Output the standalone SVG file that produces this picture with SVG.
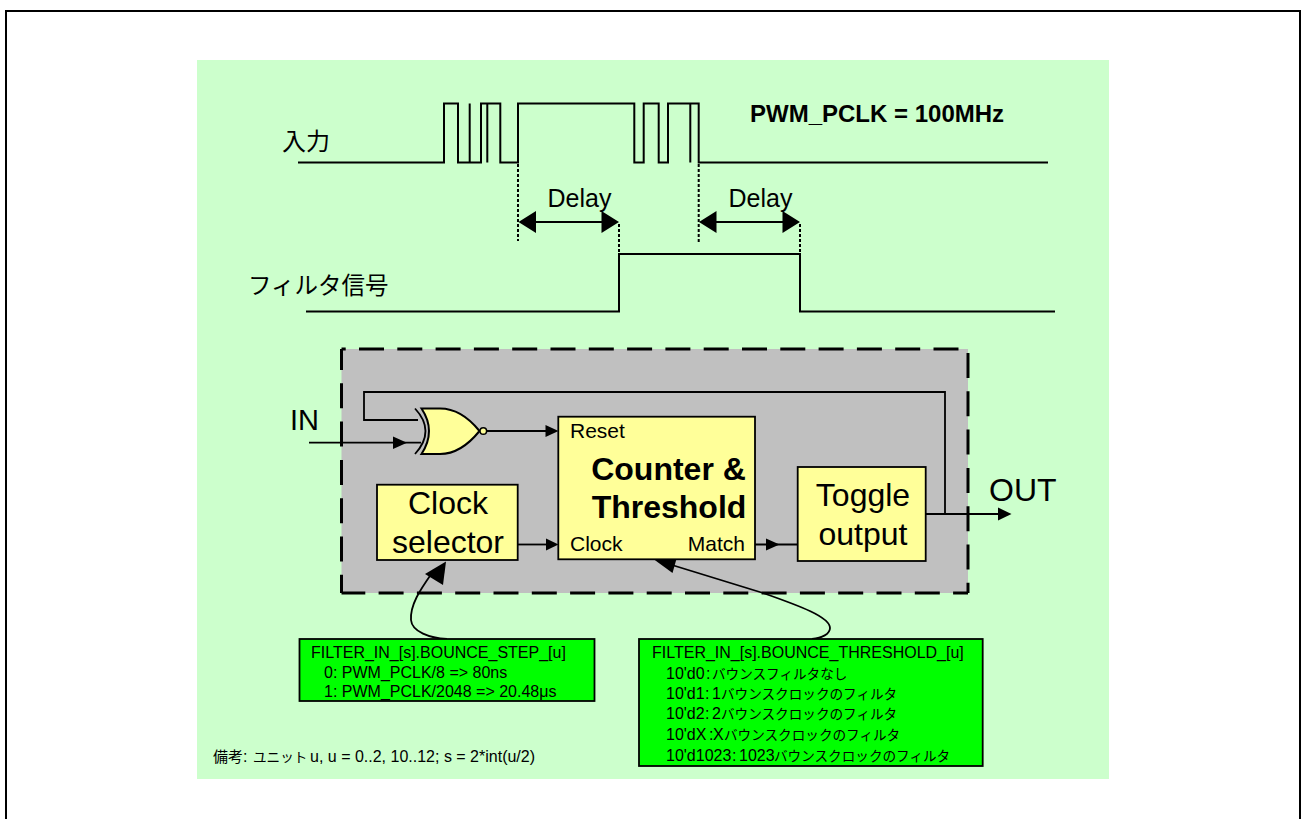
<svg xmlns="http://www.w3.org/2000/svg" width="1301" height="819" viewBox="0 0 1301 819">
<style>
text{font-family:"Liberation Sans","Noto Sans CJK JP",sans-serif;fill:#000}
.w{fill:none;stroke:#000;stroke-width:2}
.t{fill:none;stroke:#000;stroke-width:1.8}
.d{fill:none;stroke:#000;stroke-width:2;stroke-dasharray:3 2}
.box{fill:#FFFF99;stroke:#000;stroke-width:1.8}
.g{fill:#00FF00;stroke:#000;stroke-width:1.8}
.ah{fill:#000;stroke:none}
.big{font-size:32px;text-anchor:middle}
.b{font-weight:bold}
.s{font-size:16px}
.j{font-size:13.600px}
.fr{fill:none;stroke:#000;stroke-width:3;stroke-dasharray:25 13.300}
</style>
<rect x="0" y="0" width="1301" height="819" fill="#fff"/>
<path d="M6 819V11H1300V819" fill="none" stroke="#000" stroke-width="2"/>
<rect x="197" y="60" width="912" height="719" fill="#CCFFCC"/>

<g id="waveforms">
<path class="w" d="M298 162.500H444V103.500H458V162.500H469.700V103.500V162.500H481V103.500H487.300V162.500V103.500H500.300V162.500H518V103.500H634.300V162.500H643.700V103.500H658.700V162.500H668V103.500H690.300V162.500V103.500H698.700V162.500H1048"/>
<path class="w" d="M306 311.500H619V254H800V311.500H1055"/>
<path class="d" d="M518 164V241M698.700 164V243M619 224V253M800 224V253"/>
</g>
<text id="label-in" x="282" y="150" font-size="24">入力</text>
<text id="label-filter" x="248" y="294" font-size="23.500">フィルタ信号</text>
<text id="label-pwm" x="750" y="122" font-size="24" class="b">PWM_PCLK = 100MHz</text>

<g id="delay1">
<text x="579.500" y="207" font-size="25" text-anchor="middle">Delay</text>
<path class="ah" d="M518.500 222L536 211V233Z M619 222L601.500 211V233Z"/>
<path class="w" d="M530 222H608"/>
</g>
<g id="delay2">
<text x="760.500" y="207" font-size="25" text-anchor="middle">Delay</text>
<path class="ah" d="M699 222L716.500 211V233Z M800 222L782.500 211V233Z"/>
<path class="w" d="M711 222H789"/>
</g>

<g id="frame">
<rect x="341.500" y="349" width="626.500" height="244" fill="#C0C0C0"/>
<path class="fr" d="M341.500 349H968" stroke-dashoffset="20.800"/>
<path class="fr" d="M341.500 349V593" stroke-dashoffset="4"/>
<path class="fr" d="M341.500 593H968" stroke-dashoffset="1.200"/>
<path class="fr" d="M968 349V593" stroke-dashoffset="34.300"/>
</g>

<g id="connectors">
<path class="t" d="M418 420H364V392H945V514"/>
<path class="t" d="M309 442.700H421"/>
<path class="ah" d="M407 442.700L393 436.500V449Z"/>
<path class="t" d="M487 431H550"/>
<path class="ah" d="M558.500 431L545.500 425V437Z"/>
<path class="t" d="M518 544.500H550"/>
<path class="ah" d="M558.500 544.500L546 538.500V550.500Z"/>
<path class="t" d="M755 544.500H798"/>
<path class="ah" d="M779.500 544.500L766 538.500V550.500Z"/>
<path class="t" d="M926 514H1000"/>
<path class="ah" d="M1011.500 514L998 507.500V520.500Z"/>
<path class="t" d="M432 573C420 590 410 605 411 620C412 632 430 638 447 639"/>
<path class="ah" d="M446 561.500L425 574L443 585Z"/>
<path class="t" d="M672 565L763 593C800 606 830 617 830 628C830 634 822 638 812 639"/>
<path class="ah" d="M652 558L677 557L672.500 573Z"/>
</g>

<g id="xnor">
<path class="t" d="M415 408.500Q436 431 415 454"/>
<path d="M421.500 408.500H440C456 408.500 469 418 479.500 431C469 444 456 454 440 454H421.500Q436.500 431 421.500 408.500Z" fill="#FFFF99" stroke="#000" stroke-width="2"/>
<circle cx="483.300" cy="431" r="3.300" fill="#FFFF99" stroke="#000" stroke-width="1.500"/>
</g>

<g id="counter">
<rect class="box" x="558.300" y="416.700" width="196.700" height="142.600"/>
<text x="570" y="438" font-size="21">Reset</text>
<text x="668.500" y="480" font-size="32" class="b" text-anchor="middle">Counter &amp;</text>
<text x="669" y="518" font-size="32" class="b" text-anchor="middle">Threshold</text>
<text x="570" y="551" font-size="21">Clock</text>
<text x="745" y="551" font-size="21" text-anchor="end">Match</text>
</g>
<g id="clock-selector">
<rect class="box" x="377" y="484.700" width="140.700" height="75.300"/>
<text class="big" x="448" y="514">Clock</text>
<text class="big" x="448" y="553">selector</text>
</g>
<g id="toggle">
<rect class="box" x="797.700" y="467" width="128" height="94"/>
<text class="big" x="863" y="506">Toggle</text>
<text class="big" x="863" y="545">output</text>
</g>
<text id="in" x="290" y="430" font-size="29">IN</text>
<text id="out" x="989" y="501" font-size="32">OUT</text>

<g id="step-box">
<rect class="g" x="299.500" y="639" width="295" height="62"/>
<text class="s" x="311" y="658">FILTER_IN_[s].BOUNCE_STEP_[u]</text>
<text class="s" x="324" y="677.500">0: PWM_PCLK/8 =&gt; 80ns</text>
<text class="s" x="324" y="696.500">1: PWM_PCLK/2048 =&gt; 20.48μs</text>
</g>
<g id="threshold-box">
<rect class="g" x="639" y="639" width="343.700" height="127"/>
<text class="s" x="652" y="658">FILTER_IN_[s].BOUNCE_THRESHOLD_[u]</text>
<text class="s" x="666" y="679">10'd0<tspan x="706">:</tspan><tspan class="j" x="712">バウンスフィルタなし</tspan></text>
<text class="s" x="666" y="699">10'd1<tspan x="705">:</tspan><tspan x="712">1</tspan><tspan class="j" x="721">バウンスクロックのフィルタ</tspan></text>
<text class="s" x="666" y="719">10'd2<tspan x="705">:</tspan><tspan x="712">2</tspan><tspan class="j" x="721">バウンスクロックのフィルタ</tspan></text>
<text class="s" x="666" y="740">10'dX<tspan x="709">:</tspan><tspan x="713">X</tspan><tspan class="j" x="724">バウンスクロックのフィルタ</tspan></text>
<text class="s" x="666" y="761">10'd1023<tspan x="732">:</tspan><tspan x="739">1023</tspan><tspan class="j" x="774">バウンスクロックのフィルタ</tspan></text>
</g>
<text id="note" class="s" x="213" y="762"><tspan style="font-size:15px">備考</tspan>:<tspan class="j" x="253">ユニット</tspan><tspan x="310">u, u = 0..2, 10..12; s = 2*int(u/2)</tspan></text>
</svg>
